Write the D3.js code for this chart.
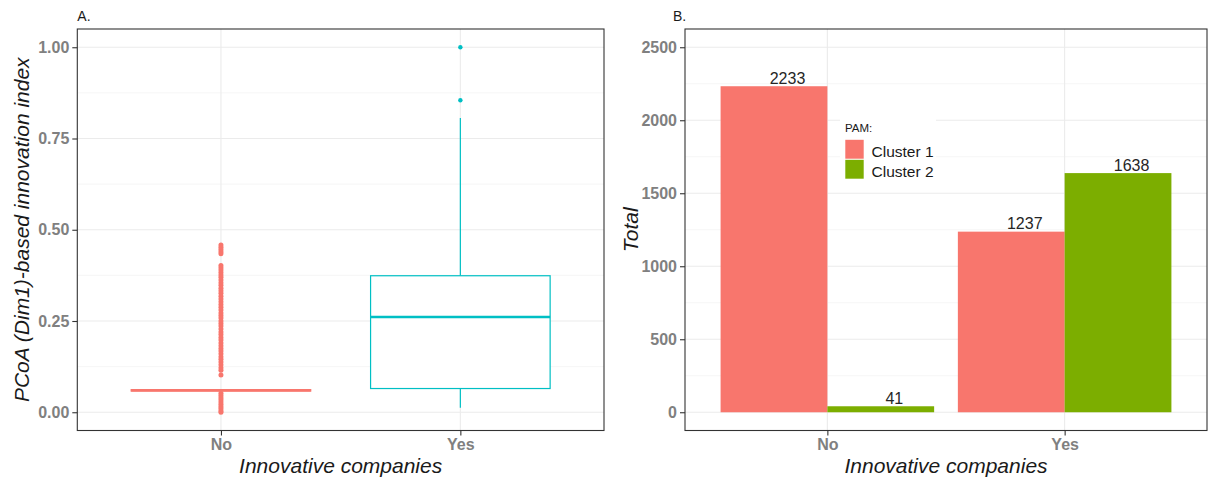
<!DOCTYPE html>
<html>
<head>
	<meta charset="utf-8">
	<script src="https://d3js.org/d3.v7.min.js"></script>
	<style>
		body { margin: 0; background: #ffffff; }
		svg { font-family: "Liberation Sans", Arial, sans-serif; }
		.grid-major { stroke: #ebebeb; stroke-width: 1.1; }
		.grid-minor { stroke: #f0f0f0; stroke-width: 0.6; }
		.axis .tick line { stroke: #333333; stroke-width: 1.1; }
		.axis .tick text { fill: #808080; font-weight: bold; font-size: 16px; }
		.axis path.domain { display: none; }
		.axis-title { font-style: italic; font-size: 21px; fill: #1a1a1a; }
		.panel-tag { font-size: 14px; fill: #1a1a1a; }
	</style>
</head>
<body>
<div id="chart"></div>
<script>
	// ---- Data: panel A (boxplot of the index) ----
	var groups = ["No", "Yes"];
	var boxQ1 = [0.058, 0.065];
	var boxMedian = [0.060, 0.261];
	var boxQ3 = [0.062, 0.374];
	var whiskerLow = [0.058, 0.012];
	var whiskerHigh = [0.062, 0.806];
	var outliersNo = [0.458, 0.452, 0.446, 0.440, 0.434,
		0.402, 0.396, 0.390, 0.383, 0.376, 0.370, 0.362, 0.355, 0.348, 0.340,
		0.333, 0.326, 0.318, 0.310, 0.303, 0.295, 0.288, 0.280, 0.272, 0.265,
		0.258, 0.250, 0.243, 0.236, 0.228, 0.220, 0.213, 0.205, 0.198, 0.190,
		0.182, 0.175, 0.168, 0.160, 0.152, 0.145, 0.138, 0.130, 0.122, 0.115, 0.102,
		0.052, 0.046, 0.040, 0.034, 0.028, 0.022, 0.016, 0.010, 0.004, 0.000];
	var outliersYes = [0.855, 1.00];
	var indexTicks = [0, 0.25, 0.5, 0.75, 1];
	var indexMinor = [0.125, 0.375, 0.625, 0.875];

	// ---- Data: panel B (counts per PAM cluster) ----
	var clusters = ["Cluster 1", "Cluster 2"];
	var cluster1Totals = [2233, 1237];
	var cluster2Totals = [41, 1638];
	var totalTicks = [0, 500, 1000, 1500, 2000, 2500];
	var totalMinor = [250, 750, 1250, 1750, 2250];

	var groupColours = ["#F8766D", "#00BFC4"];
	var clusterColours = ["#F8766D", "#7CAE00"];

	var svg = d3.select("#chart").append("svg")
		.attr("width", 1213)
		.attr("height", 480);

	var panelTop = 29, panelBottom = 430.5;

	// Draws the grey grid and axes for one panel
	function drawFrame(x, y, left, right, ticks, minor, fmt) {
		var g = svg.append("g");
		g.selectAll(".grid-minor").data(minor).enter().append("line")
			.attr("class", "grid-minor")
			.attr("x1", left).attr("x2", right)
			.attr("y1", function(d) { return y(d); })
			.attr("y2", function(d) { return y(d); });
		g.selectAll(".grid-major.h").data(ticks).enter().append("line")
			.attr("class", "grid-major h")
			.attr("x1", left).attr("x2", right)
			.attr("y1", function(d) { return y(d); })
			.attr("y2", function(d) { return y(d); });
		g.selectAll(".grid-major.v").data(groups).enter().append("line")
			.attr("class", "grid-major v")
			.attr("x1", function(d) { return x(d); })
			.attr("x2", function(d) { return x(d); })
			.attr("y1", panelTop).attr("y2", panelBottom);

		svg.append("g")
			.attr("class", "axis")
			.attr("transform", "translate(" + left + ",0)")
			.call(d3.axisLeft(y).tickValues(ticks).tickFormat(fmt).tickSize(5).tickPadding(3));

		svg.append("g")
			.attr("class", "axis")
			.attr("transform", "translate(0," + panelBottom + ")")
			.call(d3.axisBottom(x).tickSize(5).tickPadding(3));
		return g;
	}

	function drawBorder(left, right) {
		svg.append("rect")
			.attr("x", left).attr("y", panelTop)
			.attr("width", right - left).attr("height", panelBottom - panelTop)
			.attr("fill", "none")
			.attr("stroke", "#333333")
			.attr("stroke-width", 1.1);
	}

	// ================= Panel A =================
	var aLeft = 77.3, aRight = 604;
	var xA = d3.scalePoint().domain(groups).range([aLeft, aRight]).padding(0.6);
	var yA = d3.scaleLinear().domain([-0.05, 1.05]).range([panelBottom, panelTop]);
	drawFrame(xA, yA, aLeft, aRight, indexTicks, indexMinor, d3.format(".2f"));

	var boxW = xA.step() * 0.75;
	var boxes = svg.append("g").selectAll("g").data(groups).enter().append("g");

	// Whiskers
	boxes.append("line")
		.attr("x1", function(d) { return xA(d); })
		.attr("x2", function(d) { return xA(d); })
		.attr("y1", function(d, i) { return yA(whiskerHigh[i]); })
		.attr("y2", function(d, i) { return yA(boxQ3[i]); })
		.attr("stroke", function(d, i) { return groupColours[i]; })
		.attr("stroke-width", 1.2);
	boxes.append("line")
		.attr("x1", function(d) { return xA(d); })
		.attr("x2", function(d) { return xA(d); })
		.attr("y1", function(d, i) { return yA(boxQ1[i]); })
		.attr("y2", function(d, i) { return yA(whiskerLow[i]); })
		.attr("stroke", function(d, i) { return groupColours[i]; })
		.attr("stroke-width", 1.2);

	// Box
	boxes.append("rect")
		.attr("x", function(d) { return xA(d) - boxW / 2; })
		.attr("width", boxW)
		.attr("y", function(d, i) { return yA(boxQ3[i]); })
		.attr("height", function(d, i) { return yA(boxQ1[i]) - yA(boxQ3[i]); })
		.attr("fill", "#ffffff")
		.attr("stroke", function(d, i) { return groupColours[i]; })
		.attr("stroke-width", 1.2);

	// Median
	boxes.append("line")
		.attr("x1", function(d) { return xA(d) - boxW / 2; })
		.attr("x2", function(d) { return xA(d) + boxW / 2; })
		.attr("y1", function(d, i) { return yA(boxMedian[i]); })
		.attr("y2", function(d, i) { return yA(boxMedian[i]); })
		.attr("stroke", function(d, i) { return groupColours[i]; })
		.attr("stroke-width", 2.4);

	// Outliers
	var outlierList = [outliersNo, outliersYes];
	boxes.selectAll("circle")
		.data(function(d, i) { return outlierList[i].map(function(v) { return {g: d, i: i, v: v}; }); })
		.enter().append("circle")
		.attr("cx", function(d) { return xA(d.g); })
		.attr("cy", function(d) { return yA(d.v); })
		.attr("r", function(d) { return d.i === 0 ? 2.5 : 2.2; })
		.attr("fill", function(d) { return groupColours[d.i]; });

	drawBorder(aLeft, aRight);

	svg.append("text").attr("class", "panel-tag")
		.attr("x", aLeft).attr("y", 21).text("A.");
	svg.append("text").attr("class", "axis-title")
		.attr("text-anchor", "middle")
		.attr("x", (aLeft + aRight) / 2).attr("y", 473)
		.text("Innovative companies");
	svg.append("text").attr("class", "axis-title")
		.attr("text-anchor", "middle")
		.attr("transform", "translate(29," + (panelTop + panelBottom) / 2 + ") rotate(-90)")
		.text("PCoA (Dim1)-based innovation index");

	// ================= Panel B =================
	var bLeft = 685, bRight = 1207;
	var xB = d3.scalePoint().domain(groups).range([bLeft, bRight]).padding(0.6);
	var yB = d3.scaleLinear().domain([-125, 2625]).range([panelBottom, panelTop]);
	drawFrame(xB, yB, bLeft, bRight, totalTicks, totalMinor, d3.format("d"));

	// Dodge scale within each group
	var dodge = d3.scaleBand().domain(clusters)
		.range([-0.45 * xB.step(), 0.45 * xB.step()]);

	var totals = [cluster1Totals, cluster2Totals];
	var barData = [];
	groups.forEach(function(g, gi) {
		clusters.forEach(function(c, ci) {
			barData.push({group: g, cluster: c, ci: ci, value: totals[ci][gi]});
		});
	});

	svg.append("g").selectAll("rect").data(barData).enter().append("rect")
		.attr("x", function(d) { return xB(d.group) + dodge(d.cluster); })
		.attr("width", dodge.bandwidth())
		.attr("y", function(d) { return yB(d.value); })
		.attr("height", function(d) { return yB(0) - yB(d.value); })
		.attr("fill", function(d) { return clusterColours[d.ci]; });

	// Value labels, nudged slightly right as in the original
	var nudge = 0.057 * xB.step();
	svg.append("g").selectAll("text").data(barData).enter().append("text")
		.attr("text-anchor", "middle")
		.attr("x", function(d) { return xB(d.group) + dodge(d.cluster) + dodge.bandwidth() / 2 + nudge; })
		.attr("y", function(d) { return yB(d.value) - 2.5; })
		.attr("font-size", "16px")
		.attr("fill", "#262626")
		.text(function(d) { return d.value; });

	drawBorder(bLeft, bRight);

	// Legend
	var legend = svg.append("g").attr("transform", "translate(845,0)");
	legend.append("rect")
		.attr("x", -5).attr("y", 117)
		.attr("width", 96).attr("height", 67)
		.attr("fill", "#ffffff");
	legend.append("text")
		.attr("x", 0).attr("y", 132)
		.attr("font-size", "11.5px")
		.attr("fill", "#1a1a1a")
		.text("PAM:");
	var keys = legend.selectAll("g.key").data(clusters).enter().append("g")
		.attr("class", "key")
		.attr("transform", function(d, i) { return "translate(0," + (139.5 + i * 20) + ")"; });
	keys.append("rect")
		.attr("width", 19).attr("height", 19.5)
		.attr("fill", function(d, i) { return clusterColours[i]; })
		.attr("stroke", "#ffffff")
		.attr("stroke-width", 0.6);
	keys.append("text")
		.attr("x", 26.5).attr("y", 17.5)
		.attr("font-size", "15.5px")
		.attr("fill", "#1a1a1a")
		.text(function(d) { return d; });

	svg.append("text").attr("class", "panel-tag")
		.attr("x", 673).attr("y", 21).text("B.");
	svg.append("text").attr("class", "axis-title")
		.attr("text-anchor", "middle")
		.attr("x", (bLeft + bRight) / 2).attr("y", 473)
		.text("Innovative companies");
	svg.append("text").attr("class", "axis-title")
		.attr("text-anchor", "middle")
		.attr("transform", "translate(638," + (panelTop + panelBottom) / 2 + ") rotate(-90)")
		.text("Total");
</script>
</body>
</html>
